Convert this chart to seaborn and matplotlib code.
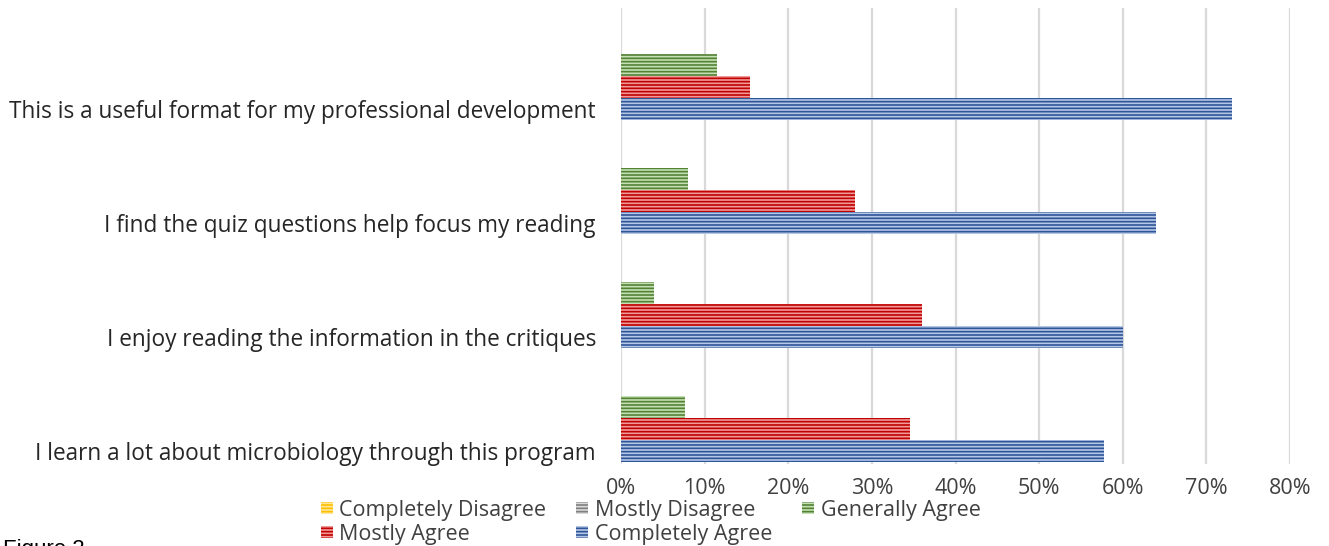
import pandas as pd
import matplotlib.pyplot as plt
import matplotlib.patches as mpatches
import seaborn as sns

# survey statements, top to bottom
statements = [
    "This is a useful format for my professional development",
    "I find the quiz questions help focus my reading",
    "I enjoy reading the information in the critiques",
    "I learn a lot about microbiology through this program",
]
responses = ["Completely Disagree", "Mostly Disagree", "Generally Agree",
             "Mostly Agree", "Completely Agree"]

completely_disagree = [0.0, 0.0, 0.0, 0.0]
mostly_disagree = [0.0, 0.0, 0.0, 0.0]
generally_agree = [0.115, 0.08, 0.04, 0.077]
mostly_agree = [0.154, 0.28, 0.36, 0.346]
completely_agree = [0.731, 0.64, 0.60, 0.577]

x_ticks = [0, 0.1, 0.2, 0.3, 0.4, 0.5, 0.6, 0.7, 0.8]
x_tick_labels = ["0%", "10%", "20%", "30%", "40%", "50%", "60%", "70%", "80%"]

# (dark line colour, light fill colour) for each response
dark_cols = ["#ffc000", "#7f7f7f", "#548235", "#c00000", "#2f5597"]
light_cols = ["#ffe699", "#d9d9d9", "#c5e0b4", "#f19a9a", "#b4c7e7"]

series = [completely_disagree, mostly_disagree, generally_agree,
          mostly_agree, completely_agree]
rows = []
for resp, vals in zip(responses, series):
    for st, v in zip(statements, vals):
        rows.append({"statement": st, "response": resp, "value": v})
df = pd.DataFrame(rows)

sns.set_style("white")
plt.rcParams["font.family"] = ["Open Sans", "DejaVu Sans"]
plt.rcParams["hatch.linewidth"] = 1.2

fig = plt.figure(figsize=(13.29, 5.46), dpi=100)
ax = fig.add_axes([621 / 1329, 1 - 464 / 546, (1290 - 621) / 1329, 456 / 546])

sns.barplot(data=df, x="value", y="statement", hue="response",
            hue_order=responses, order=statements, orient="h",
            palette=light_cols, width=0.965, errorbar=None, legend=False, ax=ax)

for cont, dc, lc in zip(ax.containers, dark_cols, light_cols):
    for p in cont:
        p.set_facecolor(lc)
        p.set_edgecolor(dc)
        p.set_hatch("-----")
        p.set_linewidth(0)

# category labels sit on the "Completely Agree" bar of each group
blue = ax.containers[-1]
centers = [p.get_y() + p.get_height() / 2 for p in blue]
ax.set_yticks(centers, labels=statements)
ax.set_ylim(3.5, -0.5)

ax.set_xlim(0, 0.8)
ax.set_xticks(x_ticks, labels=x_tick_labels)
ax.set_xlabel("")
ax.set_ylabel("")
ax.xaxis.grid(True, color="#d9d9d9", linewidth=1.6)
ax.yaxis.grid(False)
ax.set_axisbelow(True)
for s in ax.spines.values():
    s.set_visible(False)
ax.tick_params(axis="y", length=0, pad=18, labelsize=16.3, labelcolor="#262626")
ax.tick_params(axis="x", length=0, pad=10, labelsize=15.5, labelcolor="#404040")

handles = [mpatches.Patch(facecolor=lc, edgecolor=dc, hatch="-----",
                          linewidth=0, label=r)
           for r, dc, lc in zip(responses, dark_cols, light_cols)]
# reorder so ncol=3 fills row by row
order = [0, 3, 1, 4, 2]
fig.legend([handles[i] for i in order], [responses[i] for i in order],
           loc="upper left", bbox_to_anchor=(321 / 1329, 1 - 500 / 546),
           ncol=3, frameon=False, fontsize=15.5, handlelength=0.55,
           handleheight=0.5, handletextpad=0.3, columnspacing=1.4,
           labelspacing=0.12, borderpad=0, borderaxespad=0,
           labelcolor="#404040")

fig.text(0.002, 1 - 539 / 546, "Figure 2", family="Liberation Sans",
         fontsize=16, va="top", ha="left", color="#000000")

fig.savefig("out.png", dpi=100)
